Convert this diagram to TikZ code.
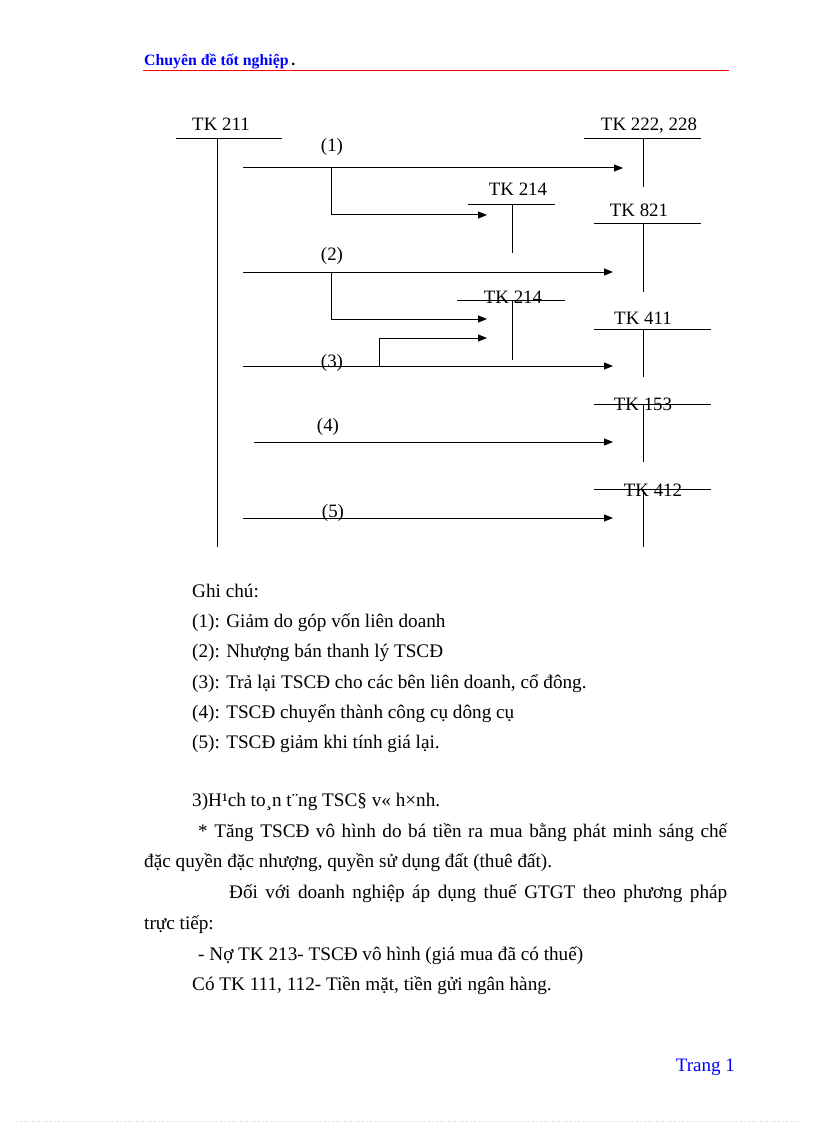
\documentclass[tikz,border=0pt]{standalone}
\usepackage{fontspec}
\setmainfont{Liberation Serif}
\usetikzlibrary{arrows.meta}

\begin{document}
\begin{tikzpicture}[x=1pt,y=-1pt,
    acc/.style={anchor=base,inner sep=0pt,font=\fontsize{18.9}{22}\selectfont},
    num/.style={anchor=base,inner sep=0pt,font=\fontsize{18.9}{22}\selectfont},
    txt/.style={anchor=base west,inner sep=0pt,font=\fontsize{19.2}{22}\selectfont},
    tline/.style={line width=1pt},
    arr/.style={line width=1pt,-{Triangle[length=9pt,width=7pt]}}]
    \useasboundingbox (0,0) rectangle (816,1123);
    % header and footer
    \node[anchor=base west,inner sep=0pt,font=\fontsize{15.8}{18}\selectfont\bfseries,text=blue] (head) at (144,66) {Chuyên đề tốt nghiệp\textcolor{black}{\,.}};
    \draw[red,line width=1pt] (143,71) -- (729,71);
    \node[anchor=base east,inner sep=0pt,font=\fontsize{19}{22}\selectfont,text=blue] (page) at (735,1071) {Trang 1};
    \draw[gray!35,dotted,line width=0.6pt] (16,1121) -- (800,1121);
    % accounts
    \node[acc] (t211) at (221,131) {TK 211};
    \node[acc] (t222) at (649,131) {TK 222, 228};
    \node[acc] (t214a) at (518,196) {TK 214};
    \node[acc] (t821) at (639,217) {TK 821};
    \node[acc] (t214b) at (513,303) {TK 214};
    \node[acc] (t411) at (643,324) {TK 411};
    \node[acc] (t153) at (643,410) {TK 153};
    \node[acc] (t412) at (653,496) {TK 412};
    \draw[tline] (176,139) -- (282,139) (217,139) -- (217,547);
    \draw[tline] (584,139) -- (701,139) (643,139) -- (643,187);
    \draw[tline] (468,205) -- (555,205) (512,205) -- (512,253);
    \draw[tline] (594,224) -- (701,224) (643,224) -- (643,292);
    \draw[tline] (457,300) -- (565,300) (512,300) -- (512,360);
    \draw[tline] (594,329) -- (711,329) (643,329) -- (643,377);
    \draw[tline] (594,404) -- (711,404) (643,404) -- (643,462);
    \draw[tline] (594,489) -- (711,489) (643,489) -- (643,547);
    % arrow ends
    \coordinate (s1) at (243,168); \coordinate (e1) at (623,168);
    \coordinate (j1) at (331,168); \coordinate (e1b) at (487,215);
    \coordinate (s2) at (243,272); \coordinate (e2) at (613,272);
    \coordinate (j2) at (331,272); \coordinate (e2b) at (487,319);
    \coordinate (s3) at (243,366); \coordinate (e3) at (613,366);
    \coordinate (j3) at (379,366); \coordinate (e3b) at (487,338);
    \coordinate (s4) at (254,442); \coordinate (e4) at (613,442);
    \coordinate (s5) at (243,518); \coordinate (e5) at (613,518);
    \path [arr] (s1) edge (e1);
    \path [arr] (s2) edge (e2);
    \path [arr] (s3) edge (e3);
    \path [arr] (s4) edge (e4);
    \path [arr] (s5) edge (e5);
    \draw[arr] (j1) |- (e1b);
    \draw[arr] (j2) |- (e2b);
    \draw[arr] (j3) |- (e3b);
    \node[num] (n1) at (332,152) {(1)};
    \node[num] (n2) at (332,260) {(2)};
    \node[num] (n3) at (332,367) {(3)};
    \node[num] (n4) at (328,431) {(4)};
    \node[num] (n5) at (333,517) {(5)};
    % notes
    \node[txt] (g0) at (192,597) {Ghi chú:};
    \node[txt] (g1) at (192,627) {(1): Giảm do góp vốn liên doanh};
    \node[txt] (g2) at (192,657) {(2): Nhượng bán thanh lý TSCĐ};
    \node[txt] (g3) at (192,688) {(3): Trả lại TSCĐ cho các bên liên doanh, cổ đông.};
    \node[txt] (g4) at (192,718) {(4): TSCĐ chuyển thành công cụ dông cụ};
    \node[txt] (g5) at (192,748) {(5): TSCĐ giảm khi tính giá lại.};
    \node[txt] (p1) at (192,806) {3)H¹ch to¸n t¨ng TSC§ v« h×nh.};
    \node[txt] (p2) at (198,837) {\makebox[529pt][s]{* Tăng TSCĐ vô hình do bá tiền ra mua bằng phát minh sáng chế}};
    \node[txt] (p3) at (144,867) {đặc quyền đặc nhượng, quyền sử dụng đất (thuê đất).};
    \node[txt] (p4) at (229,898) {\makebox[498pt][s]{Đối với doanh nghiệp áp dụng thuế GTGT theo phương pháp}};
    \node[txt] (p5) at (144,929) {trực tiếp:};
    \node[txt] (p6) at (198,960) {- Nợ TK 213- TSCĐ vô hình (giá mua đã có thuế)};
    \node[txt] (p7) at (192,990) {Có TK 111, 112- Tiền mặt, tiền gửi ngân hàng.};
\end{tikzpicture}
\end{document}
